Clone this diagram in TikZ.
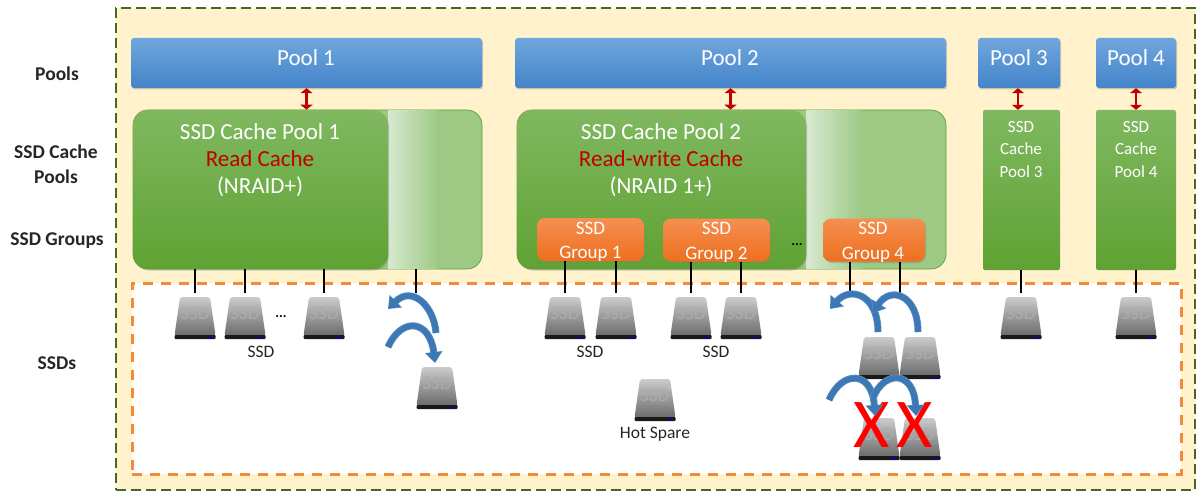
\documentclass[tikz,border=0pt]{standalone}
\usepackage{fontspec}
\setmainfont{Carlito}
\usetikzlibrary{arrows.meta,shadows,calc}
\definecolor{cream}{HTML}{FFF2CC}
\definecolor{frame}{HTML}{3F6B22}
\definecolor{dashor}{HTML}{F58A3A}
\definecolor{blueT}{HTML}{70A6DE}
\definecolor{blueB}{HTML}{4384C8}
\definecolor{greenT}{HTML}{80B860}
\definecolor{greenB}{HTML}{5FA233}
\definecolor{greenPale}{HTML}{9DC985}
\definecolor{greenFade}{HTML}{D8E9D0}
\definecolor{orT}{HTML}{F58F50}
\definecolor{orB}{HTML}{EE6F1E}
\definecolor{redtxt}{HTML}{C00000}
\definecolor{arrowblue}{HTML}{3B78B4}
\definecolor{arrowdark}{HTML}{5C8FC4}
\tikzset{
  softshadow/.style={drop shadow={shadow xshift=1pt,shadow yshift=-1.5pt,opacity=.4}},
  poolbox/.style={rounded corners=3pt,top color=blueT,bottom color=blueB,draw=none,softshadow,inner sep=0pt},
  frontbox/.style={rounded corners=15pt,top color=greenT,bottom color=greenB,draw=none,softshadow,inner sep=0pt},
  backbox/.style={rounded corners=15pt,fill=greenPale,draw=greenB,line width=.7pt,inner sep=0pt},
  colbox/.style={rounded corners=2pt,top color=greenT,bottom color=greenB,draw=none,inner sep=0pt},
  groupbox/.style={rounded corners=8pt,top color=orT,bottom color=orB,draw=none,softshadow,inner sep=0pt},
  wt/.style={text=white,inner sep=0pt,align=center},
  bigtxt/.style={font=\fontsize{23}{25}\selectfont},
  sidelabel/.style={font=\fontsize{19.5}{25}\selectfont\bfseries,text=black!85,align=center,inner sep=0pt},
  captxt/.style={font=\fontsize{17.5}{20}\selectfont,text=black!85,inner sep=0pt},
  conn/.style={draw=black,line width=1.7pt},
  dbl/.style={draw=redtxt,line width=2.8pt,{Triangle[length=5pt,width=12pt]}-{Triangle[length=5pt,width=12pt]}},
  redx/.style={text=red,font=\fontsize{70}{70}\selectfont,inner sep=0pt},
  dots/.style={font=\fontsize{14}{14}\selectfont\bfseries,inner sep=0pt},
  ssd/.pic={
    \node (-box) [minimum width=41pt,minimum height=46pt,inner sep=0pt] at (0,0) {};
    \path[top color=black!20,bottom color=black!58,rounded corners=2pt]
      (-15,-19) -- (15,-19) -- (20.5,19.5) -- (-20.5,19.5) -- cycle;
    \node (-t) [text=black!33,font=\fontsize{19}{19}\selectfont,inner sep=0pt] at (0,-3) {SSD};
    \fill[black!90,rounded corners=1pt] (-20.5,19) rectangle (20.5,23);
    \fill[blue!75!black] (12.5,20.5) rectangle (17,22.5);
  }
}
\newcommand{\curvearrow}[4]{%
  \draw[line width=7pt,draw=arrowdark,-{Triangle[length=11pt,width=17pt,fill=arrowdark]}] #1 .. controls #2 and #3 .. #4;
  \draw[line width=5.4pt,draw=arrowblue,-{Triangle[length=10pt,width=14.5pt,fill=arrowblue]},shorten >=.6pt] #1 .. controls #2 and #3 .. #4;
}
\begin{document}
\begin{tikzpicture}[x=1pt,y=-1pt]
\useasboundingbox (0,0) rectangle (1196,492);
% frames
\node (outer) [draw=frame,fill=cream,line width=2.4pt,dash pattern=on 10pt off 5pt,minimum width=1079pt,minimum height=482pt,inner sep=0pt] at (655.5,249) {};
\node (inner) [draw=dashor,fill=white,line width=3pt,dash pattern=on 10pt off 8pt,minimum width=1049pt,minimum height=191pt,inner sep=0pt] at (656.5,378.5) {};
% pools
\node (p1) [poolbox,minimum width=351pt,minimum height=50pt] at (306.5,63) {};
\node (p2) [poolbox,minimum width=431pt,minimum height=50pt] at (730.5,63) {};
\node (p3) [poolbox,minimum width=82pt,minimum height=50pt] at (1019,63) {};
\node (p4) [poolbox,minimum width=80pt,minimum height=50pt] at (1136,63) {};
\node (p1t) [wt,bigtxt] at (306,58) {Pool 1};
\node (p2t) [wt,bigtxt] at (730,58) {Pool 2};
\node (p3t) [wt,bigtxt] at (1019,58) {Pool 3};
\node (p4t) [wt,bigtxt] at (1136,58) {Pool 4};
% cache pools
\node (cb1) [backbox,minimum width=349pt,minimum height=159pt] at (307.5,189.5) {};
\fill[left color=greenFade,right color=greenPale] (388,111) rectangle (438,268.5);
\node (c1) [frontbox,minimum width=255pt,minimum height=159pt] at (260.5,189.5) {};
\node (cb2) [backbox,minimum width=429pt,minimum height=159pt] at (731.5,189.5) {};
\fill[left color=greenFade,right color=greenPale] (806,111) rectangle (862,268.5);
\node (c2) [frontbox,minimum width=289pt,minimum height=159pt] at (661.5,189.5) {};
\node (c3) [colbox,minimum width=77pt,minimum height=160pt] at (1021.5,190) {};
\node (c4) [colbox,minimum width=80pt,minimum height=160pt] at (1136,190) {};
\node (c1a) [wt,bigtxt] at (260,132) {SSD Cache Pool 1};
\node (c1b) [wt,text=redtxt,bigtxt] at (260,159) {Read Cache};
\node (c1c) [wt,bigtxt] at (260,187) {(NRAID+)};
\node (c2a) [wt,bigtxt] at (661,132) {SSD Cache Pool 2};
\node (c2b) [wt,text=redtxt,bigtxt] at (661,159) {Read-write Cache};
\node (c2c) [wt,bigtxt] at (661,187) {(NRAID 1+)};
\node (c3t) [wt,font=\fontsize{17}{22.5}\selectfont] at (1021,149.5) {SSD\\Cache\\Pool 3};
\node (c4t) [wt,font=\fontsize{17}{22.5}\selectfont] at (1136,149.5) {SSD\\Cache\\Pool 4};
% groups
\node (g1) [groupbox,minimum width=107pt,minimum height=43pt] at (590.5,239.5) {};
\node (g2) [groupbox,minimum width=107pt,minimum height=43pt] at (716.5,240) {};
\node (g4) [groupbox,minimum width=102pt,minimum height=43pt] at (874,240) {};
\node (g1t) [wt,font=\fontsize{19}{24.5}\selectfont] at (590.5,242) {SSD\\Group 1};
\node (g2t) [wt,font=\fontsize{19}{24.5}\selectfont] at (716.5,242.5) {SSD\\Group 2};
\node (g4t) [wt,font=\fontsize{19}{24.5}\selectfont] at (873,242.5) {SSD\\Group 4};
\node (d2) [dots] at (797,245) {...};
% pool to cache arrows
\draw[dbl] (p1.south) -- (p1.south |- cb1.north);
\draw[dbl] (p2.south) -- (p2.south |- cb2.north);
\draw[dbl] ($(p3.south)+(-1,0)$) -- ($(p3.south |- c3.north)+(-1,0)$);
\draw[dbl] (p4.south) -- (p4.south |- c4.north);
% ssd icons
\pic (s1) at (195,316) {ssd};
\pic (s2) at (245,316) {ssd};
\pic (s3) at (324,316) {ssd};
\pic (s4) at (437,386) {ssd};
\pic (s5) at (565,316) {ssd};
\pic (s6) at (616,316) {ssd};
\pic (s7) at (691,316) {ssd};
\pic (s8) at (741,316) {ssd};
\pic (s9) at (655,398) {ssd};
\pic (s10) at (879,356) {ssd};
\pic (s11) at (920,356) {ssd};
\pic (s12) at (879,437) {ssd};
\pic (s13) at (920,437) {ssd};
\pic (s14) at (1021,316) {ssd};
\pic (s15) at (1136,316) {ssd};
% connectors
\coordinate (f1) at (416,293);
\coordinate (f2) at (850,293);
\coordinate (f3) at (900,293);
\draw[conn] (s1-box.north |- c1.south) -- (s1-box.north);
\draw[conn] (s2-box.north |- c1.south) -- (s2-box.north);
\draw[conn] (s3-box.north |- c1.south) -- (s3-box.north);
\draw[conn] (f1 |- cb1.south) -- (f1);
\draw[conn] (s5-box.north |- g1.south) -- (s5-box.north);
\draw[conn] (s6-box.north |- g1.south) -- (s6-box.north);
\draw[conn] (s7-box.north |- g2.south) -- (s7-box.north);
\draw[conn] (s8-box.north |- g2.south) -- (s8-box.north);
\draw[conn] (f2 |- g4.south) -- (f2);
\draw[conn] (f3 |- g4.south) -- (f3);
\draw[conn] (s14-box.north |- c3.south) -- (s14-box.north);
\draw[conn] (s15-box.north |- c4.south) -- (s15-box.north);
% text in the ssd area
\node (d1) [dots] at (281,317) {...};
\node (l1) [captxt] at (261,352) {SSD};
\node (l2) [captxt] at (590,352) {SSD};
\node (l3) [captxt] at (716,352) {SSD};
\node (l4) [captxt] at (655,434) {Hot Spare};
% failed disks
\node (x1) [redx] at (872,425) {X};
\node (x2) [redx] at (915,425) {X};
% moving arrows
\curvearrow{(436,333)}{(434,306)}{(412,285)}{(388,309)}
\curvearrow{(388,347)}{(402,316)}{(430,320)}{(435,363)}
\curvearrow{(878,332)}{(878,294)}{(850,286)}{(830,309)}
\curvearrow{(918,332)}{(918,294)}{(890,286)}{(873,313)}
\curvearrow{(829,400)}{(842,370)}{(872,370)}{(875,416)}
\curvearrow{(873,398)}{(884,370)}{(914,370)}{(916,416)}
% side labels
\node (sl1) [sidelabel] at (57,74) {Pools};
\node (sl2) [sidelabel] at (56,164) {SSD Cache\\Pools};
\node (sl3) [sidelabel] at (57,241) {SSD Groups};
\node (sl4) [sidelabel] at (57,363) {SSDs};
\end{tikzpicture}
\end{document}
